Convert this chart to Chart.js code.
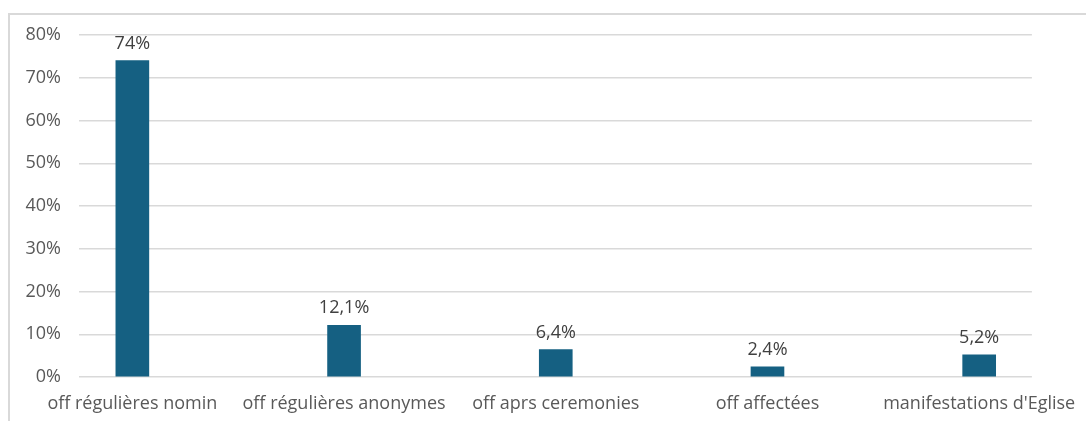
<!DOCTYPE html>
<html>
<head>
<meta charset="utf-8">
<script src="https://cdn.jsdelivr.net/npm/chart.js@4/dist/chart.umd.min.js"></script>
<style>
  html, body { margin: 0; padding: 0; background: #fff; }
  #wrap { position: relative; width: 1086px; height: 421px; }
  #frame {
    position: absolute; left: 8px; top: 13px; right: 0; bottom: 0;
    border-top: 2px solid #d9d9d9; border-left: 2px solid #d9d9d9;
    pointer-events: none;
  }
</style>
</head>
<body>
<div id="wrap">
  <canvas id="chart" width="1086" height="421"></canvas>
  <div id="frame"></div>
</div>
<script>
const categories = [
  "off régulières nomin",
  "off régulières anonymes",
  "off aprs ceremonies",
  "off affectées",
  "manifestations d'Eglise"
];
const values = [74, 12.1, 6.4, 2.4, 5.2];
const yTicks = [0, 10, 20, 30, 40, 50, 60, 70, 80];

const font = { family: "'Open Sans', sans-serif", size: 18 };
const textColor = "#595959";

// value labels above each bar
const valueLabels = {
  id: "valueLabels",
  afterDatasetsDraw(chart) {
    const ctx = chart.ctx;
    const meta = chart.getDatasetMeta(0);
    ctx.save();
    ctx.font = "18px 'Open Sans', sans-serif";
    ctx.fillStyle = "#404040";
    ctx.textAlign = "center";
    ctx.textBaseline = "bottom";
    meta.data.forEach((bar, i) => {
      const txt = String(values[i]).replace(".", ",") + "%";
      ctx.fillText(txt, bar.x, bar.y - 8);
    });
    ctx.restore();
  }
};

new Chart(document.getElementById("chart"), {
  type: "bar",
  data: {
    datasets: [{
      data: values.map((v, i) => ({ x: i, y: v })),
      backgroundColor: "#156082",
      barThickness: 33
    }]
  },
  options: {
    responsive: false,
    animation: false,
    layout: { padding: { left: 0, right: 51, top: 35, bottom: 0 } },
    plugins: { legend: { display: false }, tooltip: { enabled: false } },
    scales: {
      x: {
        type: "linear",
        offset: false,
        min: -0.252,
        max: 4.249,
        afterBuildTicks: (scale) => {
          scale.ticks = categories.map((c, i) => ({ value: i }));
        },
        afterFit: (scale) => { scale.height = 44; },
        ticks: {
          callback: (v) => categories[v],
          color: textColor,
          font: font,
          maxRotation: 0,
          autoSkip: false,
          padding: 8
        },
        grid: { display: false },
        border: { display: false }
      },
      y: {
        min: 0,
        max: 80,
        afterBuildTicks: (scale) => {
          scale.ticks = yTicks.map(v => ({ value: v }));
        },
        afterFit: (scale) => { scale.width = 79; },
        ticks: {
          callback: (v) => v + "%",
          color: textColor,
          font: font,
          padding: 18
        },
        grid: { color: "#d9d9d9", lineWidth: 1.5, drawTicks: false },
        border: { display: false }
      }
    }
  },
  plugins: [valueLabels]
});
</script>
</body>
</html>
